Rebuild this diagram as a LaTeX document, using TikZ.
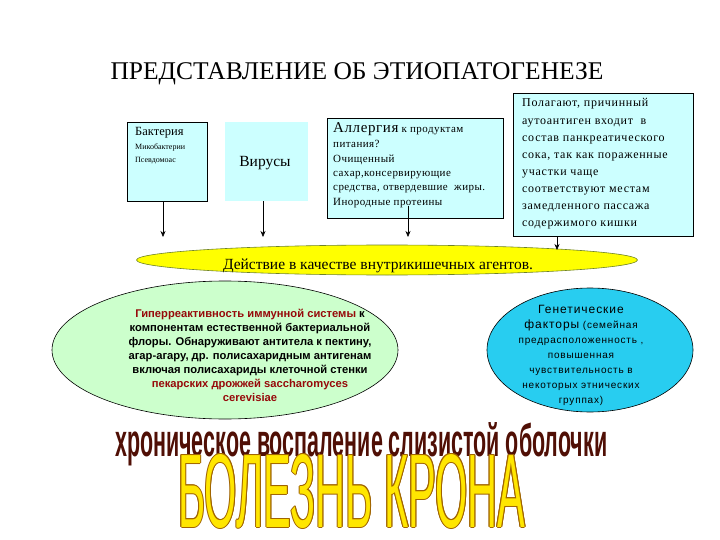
\documentclass[tikz,border=0pt]{standalone}
\usepackage{fontspec}
\setmainfont{Liberation Serif}
\setsansfont{Liberation Sans}
\usetikzlibrary{shapes.geometric,arrows.meta}
\definecolor{boxfill}{RGB}{204,255,255}
\definecolor{ellyellow}{RGB}{255,255,0}
\definecolor{ellyellowdraw}{RGB}{110,130,40}
\definecolor{ellgreen}{RGB}{204,255,204}
\definecolor{ellcyan}{RGB}{40,205,240}
\definecolor{darkred}{RGB}{150,10,10}
\definecolor{chronic}{RGB}{80,15,5}
\definecolor{kronafill}{RGB}{255,230,0}
\definecolor{kronaline}{RGB}{160,100,0}
\newcommand\kronatext{\resizebox{347pt}{73pt}{БОЛЕЗНЬ КРОНА}}
\begin{document}
\begin{tikzpicture}[x=1pt,y=-1pt,
  box/.style={draw=black, line width=0.6pt, fill=boxfill, inner sep=0},
  arr/.style={-{Stealth[length=6pt,width=5pt]}, line width=0.6pt},
  txt/.style={inner sep=0, align=left, anchor=base west}]
\useasboundingbox (0,0) rectangle (720,540);
\fill[white] (0,0) rectangle (720,540);

% title
\node[anchor=base, inner sep=0, font=\fontsize{25.5}{28}\selectfont] (title) at (357,80) {ПРЕДСТАВЛЕНИЕ ОБ ЭТИОПАТОГЕНЕЗЕ};

% boxes
\node[box, minimum width=80, minimum height=79] (b1) at (167,161.5) {};
\node[fill=boxfill, inner sep=0, minimum width=83, minimum height=79] (b2) at (266.5,161.5) {};
\node[box, minimum width=176, minimum height=100] (b3) at (415,168) {};
\node[box, minimum width=180, minimum height=143] (b4) at (603,164.5) {};

% (base of a multi-line node = its last line)
\node[txt, font=\fontsize{8}{13.5}\selectfont] (b1t) at (135,163)
  {{\fontsize{12.5}{13.5}\selectfont Бактерия}\\Микобактерии\\Псевдомоас};
\node[anchor=base, inner sep=0, font=\fontsize{15.5}{18}\selectfont] (b2t) at (265,167) {Вирусы};
\node[txt, font=\fontsize{11}{14.5}\selectfont\addfontfeature{LetterSpace=4}] (b3t) at (333,205.5)
  {{\fontsize{15}{14.5}\selectfont Аллергия} к продуктам\\питания?\\Очищенный\\сахар,консервирующие\\средства, отвердевшие\ \ жиры.\\Инородные протеины};
\node[txt, font=\fontsize{12}{17.1}\selectfont\addfontfeature{LetterSpace=6}] (b4t) at (522,226.7)
  {Полагают, причинный\\аутоантиген входит\ \ в\\состав панкреатического\\сока, так как пораженные\\участки чаще\\соответствуют местам\\замедленного пассажа\\содержимого кишки};

% yellow ellipse
\node[ellipse, draw=ellyellowdraw, line width=0.6pt, fill=ellyellow, minimum width=501, minimum height=30, inner sep=0] (ye) at (387,260) {};
\node[anchor=base, inner sep=0, font=\fontsize{15.5}{17}\selectfont] (yet) at (378,269) {Действие в качестве внутрикишечных агентов.};

% arrows
\coordinate (a1) at (163,237);
\coordinate (a2) at (263,237);
\coordinate (a3) at (408,237);
\coordinate (s3) at (408,206);
\coordinate (a4) at (557,250);
\draw[arr] (b1.south -| a1) -- (a1);
\draw[arr] (b2.south -| a2) -- (a2);
\draw[arr] (s3) -- (a3);
\draw[arr] (b4.south -| a4) -- (a4);

% green ellipse
\node[ellipse, draw=black, line width=0.6pt, fill=ellgreen, minimum width=346, minimum height=138, inner sep=0] (ge) at (225,350) {};
\node[inner sep=0, align=center, anchor=base, font=\sffamily\bfseries\fontsize{11.2}{14}\selectfont] (get) at (250,401)
  {\textcolor{darkred}{Гиперреактивность иммунной системы} к\\компонентам естественной бактериальной\\флоры. Обнаруживают антитела к пектину,\\агар-агару, др. полисахаридным антигенам\\включая полисахариды клеточной стенки\\\textcolor{darkred}{пекарских дрожжей saccharomyces}\\\textcolor{darkred}{cerevisiae}};

% cyan ellipse
\node[ellipse, draw=black, line width=0.6pt, fill=ellcyan, minimum width=206, minimum height=124, inner sep=0] (ce) at (590,350) {};
\node[inner sep=0, align=center, anchor=base, font=\sffamily\fontsize{10}{15}\selectfont\addfontfeature{LetterSpace=8}] (cet) at (581,403)
  {{\fontsize{12}{15}\selectfont Генетические}\\{\fontsize{12}{15}\selectfont факторы} (семейная\\предрасположенность ,\\повышенная\\чувствительность в\\некоторых этнических\\группах)};

% chronic inflammation
\node[anchor=base west, inner sep=0, text=chronic, font=\sffamily\bfseries\fontsize{30}{30}\selectfont] (chr) at (115,456)
  {\resizebox{492pt}{34pt}{хроническое воспаление слизистой оболочки}};

% Crohn's disease (outlined)
\foreach \dx/\dy in {1/0,-1/0,0/1,0/-1,0.7/0.7,-0.7/0.7,0.7/-0.7,-0.7/-0.7}
  \node[anchor=base west, inner sep=0, text=kronaline, font=\sffamily\fontsize{40}{40}\selectfont] at (178+\dx,527+\dy) {\kronatext};
\node[anchor=base west, inner sep=0, text=kronafill, font=\sffamily\fontsize{40}{40}\selectfont] (krona) at (178,527) {\kronatext};
\end{tikzpicture}
\end{document}
